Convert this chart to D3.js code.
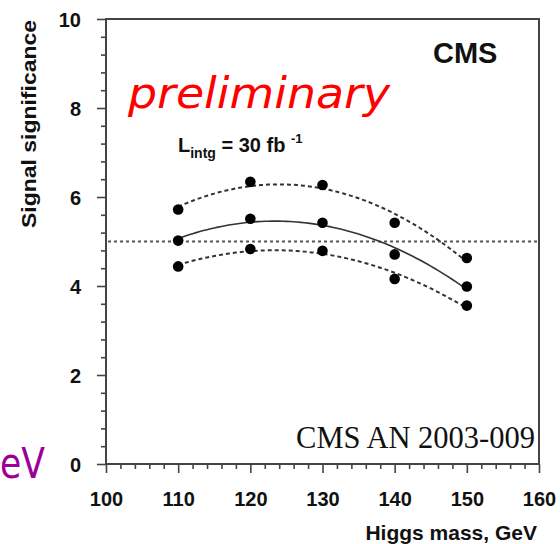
<!DOCTYPE html>
<html>
<head>
<meta charset="utf-8">
<script src="https://cdn.jsdelivr.net/npm/d3@7"></script>
<style>
  body { margin: 0; background: #ffffff; }
  svg { display: block; }
  .tick text { font-family: "Liberation Sans", Arial, sans-serif; font-weight: bold; fill: #111; }
</style>
</head>
<body>
<script>
// Higgs mass points and signal significance (central value with upper / lower band)
const masses = [110, 120, 130, 140, 150];
const sigUpper = [5.72, 6.34, 6.27, 5.42, 4.63];
const sigCentral = [5.02, 5.51, 5.42, 4.71, 3.99];
const sigLower = [4.44, 4.83, 4.79, 4.16, 3.56];
const discoveryLevel = 5;
const xTickValues = [100, 110, 120, 130, 140, 150, 160];
const yTickValues = [0, 2, 4, 6, 8, 10];

const W = 560, H = 544;
const plot = { left: 106, right: 539, top: 19, bottom: 464 };

const svg = d3.select("body").append("svg").attr("width", W).attr("height", H);

const x = d3.scaleLinear().domain([100, 160]).range([plot.left, plot.right]);
const y = d3.scaleLinear().domain([0, 10]).range([plot.bottom, plot.top]);

// least-squares quadratic fit through a series
function quadFit(xs, ys) {
  const x0 = d3.mean(xs);
  const S = [0, 0, 0, 0, 0], T = [0, 0, 0];
  xs.forEach((xv, i) => {
    const t = xv - x0;
    for (let k = 0; k < 5; k++) S[k] += Math.pow(t, k);
    for (let k = 0; k < 3; k++) T[k] += ys[i] * Math.pow(t, k);
  });
  const A = [[S[0], S[1], S[2], T[0]], [S[1], S[2], S[3], T[1]], [S[2], S[3], S[4], T[2]]];
  for (let c = 0; c < 3; c++) {
    for (let r = c + 1; r < 3; r++) {
      const f = A[r][c] / A[c][c];
      for (let k = c; k < 4; k++) A[r][k] -= f * A[c][k];
    }
  }
  const coef = [0, 0, 0];
  for (let r = 2; r >= 0; r--) {
    let s = A[r][3];
    for (let k = r + 1; k < 3; k++) s -= A[r][k] * coef[k];
    coef[r] = s / A[r][r];
  }
  return xv => { const t = xv - x0; return coef[0] + coef[1] * t + coef[2] * t * t; };
}

const grid = d3.range(masses[0], masses[masses.length - 1] + 0.001, 0.5);
const line = d3.line().x(d => x(d[0])).y(d => y(d[1]));

// slide caption fragment in the lower left corner
svg.append("text")
  .attr("x", 0).attr("y", 478)
  .attr("textLength", 45).attr("lengthAdjust", "spacingAndGlyphs")
  .attr("font-family", "'DejaVu Sans', Verdana, sans-serif")
  .attr("font-size", 42)
  .attr("fill", "#9a0099")
  .text("eV");

// plot frame
svg.append("rect")
  .attr("x", plot.left).attr("y", plot.top)
  .attr("width", plot.right - plot.left).attr("height", plot.bottom - plot.top)
  .attr("fill", "#ffffff").attr("stroke", "#444").attr("stroke-width", 2);

// 5 sigma reference line
svg.append("line")
  .attr("x1", plot.left + 2).attr("x2", plot.right - 1)
  .attr("y1", y(discoveryLevel)).attr("y2", y(discoveryLevel))
  .attr("stroke", "#555").attr("stroke-width", 2).attr("stroke-dasharray", "3,3");

// fitted curves
const series = [
  { vals: sigUpper, dash: "4,3" },
  { vals: sigCentral, dash: null },
  { vals: sigLower, dash: "4,3" }
];
series.forEach(s => {
  const f = quadFit(masses, s.vals);
  svg.append("path")
    .datum(grid.map(m => [m, f(m)]))
    .attr("d", line)
    .attr("fill", "none")
    .attr("stroke", "#333")
    .attr("stroke-width", s.dash ? 2 : 1.6)
    .attr("stroke-dasharray", s.dash);
});

// data points
series.forEach(s => {
  svg.append("g").selectAll("circle")
    .data(masses.map((m, i) => [m, s.vals[i]]))
    .join("circle")
    .attr("cx", d => x(d[0])).attr("cy", d => y(d[1]))
    .attr("r", 5.3).attr("fill", "#000");
});

// axes
const yMinor = d3.range(0, 10.001, 0.4).filter(v => Math.abs(v / 2 - Math.round(v / 2)) > 1e-6);
const xMinor = d3.range(100, 160.001, 2).filter(v => v % 10 !== 0);

const yAxis = svg.append("g").attr("transform", `translate(${plot.left},0)`)
  .call(d3.axisLeft(y).tickValues(yTickValues).tickSize(9).tickPadding(16).tickFormat(d3.format("d")));
const yAxisMinor = svg.append("g").attr("transform", `translate(${plot.left},0)`)
  .call(d3.axisLeft(y).tickValues(yMinor).tickSize(5).tickFormat(""));
const xAxis = svg.append("g").attr("transform", `translate(0,${plot.bottom})`)
  .call(d3.axisBottom(x).tickValues(xTickValues).tickSize(9).tickPadding(19).tickFormat(d3.format("d")));
const xAxisMinor = svg.append("g").attr("transform", `translate(0,${plot.bottom})`)
  .call(d3.axisBottom(x).tickValues(xMinor).tickSize(5).tickFormat(""));

[yAxis, yAxisMinor, xAxis, xAxisMinor].forEach(g => {
  g.select(".domain").remove();
  g.selectAll(".tick line").attr("stroke", "#444").attr("stroke-width", 1.6);
});
yAxis.selectAll(".tick text").attr("font-size", 20).attr("dy", "0.36em");
xAxis.selectAll(".tick text").attr("font-size", 20).attr("dy", "0.71em");

// axis titles
svg.append("text")
  .attr("transform", "translate(36,124) rotate(-90)")
  .attr("text-anchor", "middle")
  .attr("textLength", 208).attr("lengthAdjust", "spacingAndGlyphs")
  .attr("font-family", "'Liberation Sans', Arial, sans-serif")
  .attr("font-weight", "bold").attr("font-size", 20)
  .attr("fill", "#111")
  .text("Signal significance");

svg.append("text")
  .attr("x", 537).attr("y", 540)
  .attr("text-anchor", "end")
  .attr("font-family", "'Liberation Sans', Arial, sans-serif")
  .attr("font-weight", "bold").attr("font-size", 21)
  .attr("fill", "#111")
  .text("Higgs mass, GeV");

// annotations
svg.append("text")
  .attr("x", 433).attr("y", 63)
  .attr("font-family", "'Liberation Sans', Arial, sans-serif")
  .attr("font-weight", "bold").attr("font-size", 29)
  .attr("fill", "#111")
  .text("CMS");

svg.append("text")
  .attr("x", 128).attr("y", 108)
  .attr("textLength", 262).attr("lengthAdjust", "spacingAndGlyphs")
  .attr("font-family", "'DejaVu Sans', Verdana, sans-serif")
  .attr("font-style", "italic").attr("font-size", 42)
  .attr("fill", "#ff0000")
  .text("preliminary");

const lum = svg.append("text")
  .attr("x", 178).attr("y", 152)
  .attr("font-family", "'Liberation Sans', Arial, sans-serif")
  .attr("font-weight", "bold").attr("font-size", 20)
  .attr("fill", "#111");
lum.append("tspan").text("L");
lum.append("tspan").attr("font-size", 14).attr("dy", 6).text("intg");
lum.append("tspan").attr("dy", -6).text(" = 30 fb ");
lum.append("tspan").attr("font-size", 13).attr("dy", -9).text("-1");

svg.append("text")
  .attr("x", 535).attr("y", 448)
  .attr("text-anchor", "end")
  .attr("font-family", "'Liberation Serif', 'Times New Roman', serif")
  .attr("font-size", 30.5)
  .attr("fill", "#111")
  .text("CMS AN 2003-009");
</script>
</body>
</html>
